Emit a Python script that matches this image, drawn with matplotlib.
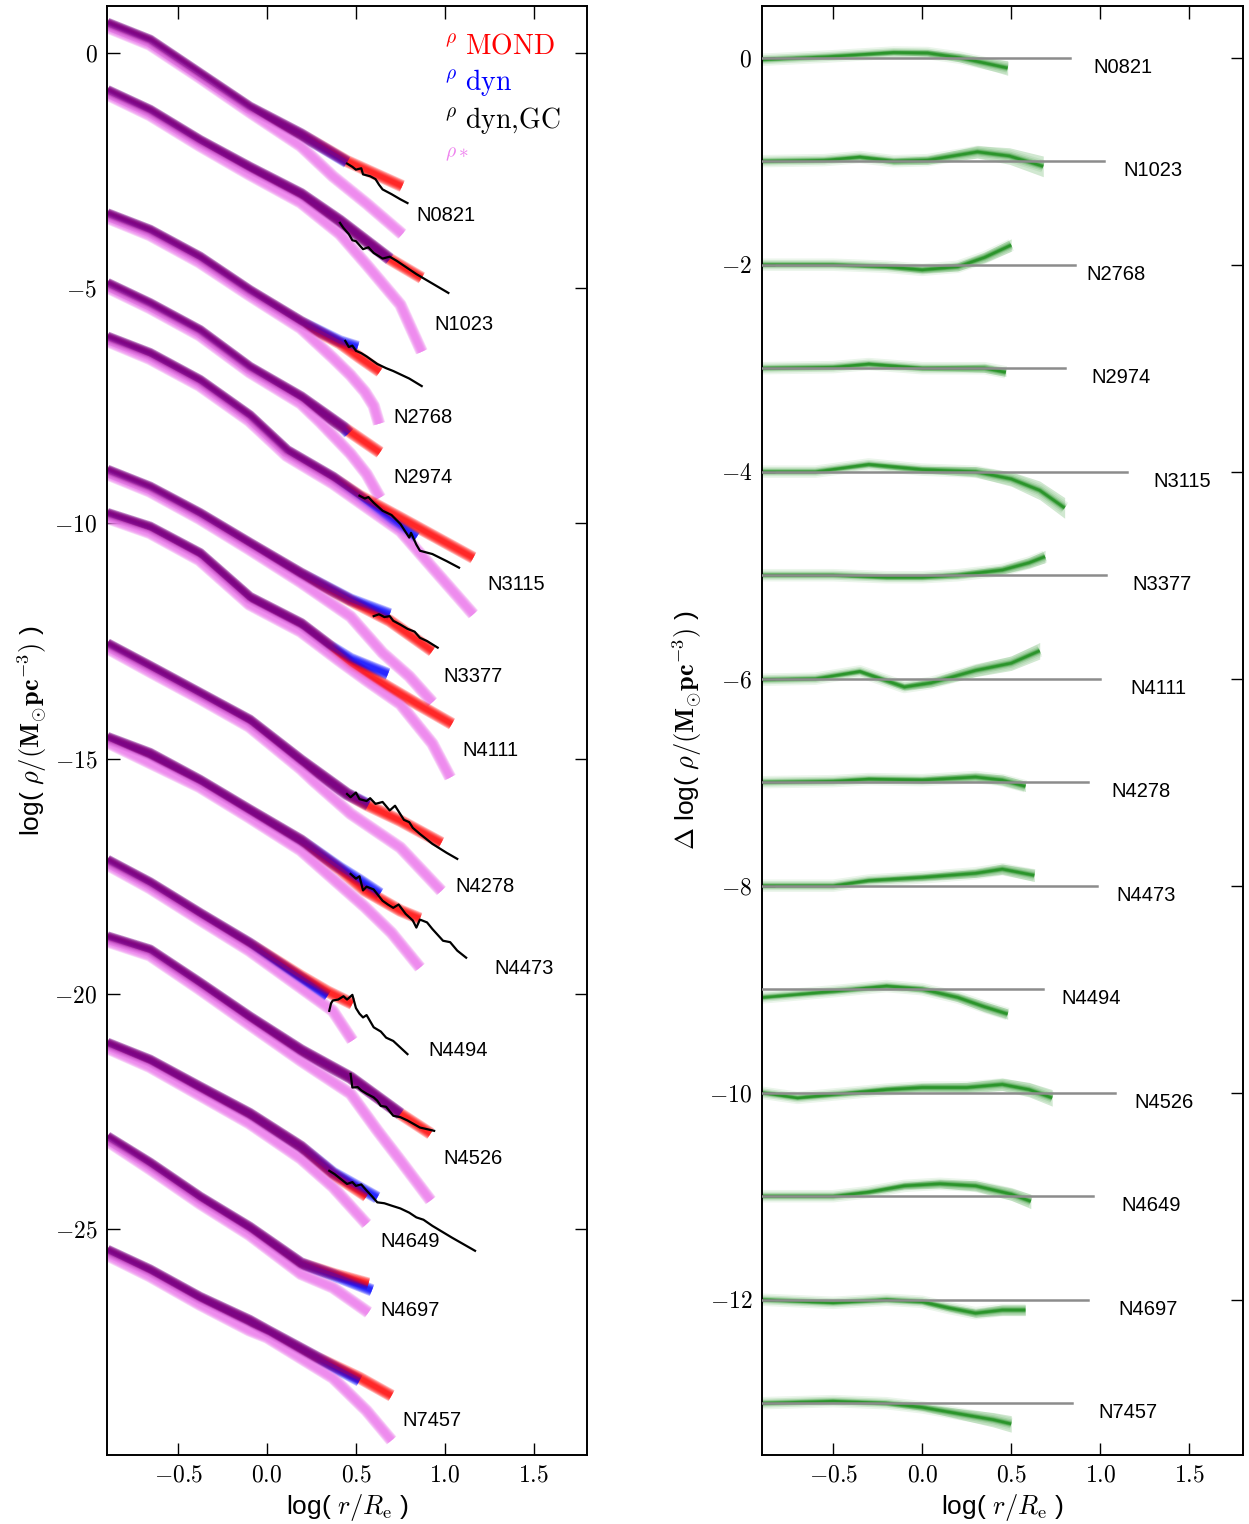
import matplotlib
matplotlib.use("Agg")
import matplotlib.pyplot as plt

plt.rcParams['mathtext.fontset'] = 'cm'
plt.rcParams['font.family'] = ['Liberation Sans', 'DejaVu Sans']

galaxies = ["N0821", "N1023", "N2768", "N2974", "N3115", "N3377", "N4111",
            "N4278", "N4473", "N4494", "N4526", "N4649", "N4697", "N7457"]

# ---- left panel: log density profiles (shifted) ----
mond_x = [
    [-0.9, -0.66, -0.38, -0.10, 0.19, 0.45, 0.76],
    [-0.9, -0.66, -0.38, -0.10, 0.19, 0.41, 0.69, 0.87],
    [-0.9, -0.66, -0.38, -0.10, 0.19, 0.41, 0.52, 0.635],
    [-0.9, -0.66, -0.38, -0.10, 0.19, 0.43, 0.635],
    [-0.9, -0.66, -0.38, -0.10, 0.11, 0.37, 0.52, 0.75, 1.16],
    [-0.9, -0.66, -0.38, -0.10, 0.19, 0.47, 0.69, 0.93],
    [-0.9, -0.66, -0.38, -0.10, 0.19, 0.35, 0.47, 0.67, 0.85, 1.04],
    [-0.9, -0.66, -0.38, -0.10, 0.19, 0.45, 0.56, 0.75, 0.98],
    [-0.9, -0.66, -0.38, -0.10, 0.19, 0.41, 0.55, 0.75, 0.86],
    [-0.9, -0.66, -0.38, -0.10, 0.19, 0.34, 0.48],
    [-0.9, -0.66, -0.38, -0.10, 0.19, 0.47, 0.75, 0.92],
    [-0.9, -0.66, -0.38, -0.10, 0.19, 0.37, 0.56],
    [-0.9, -0.66, -0.38, -0.10, 0.19, 0.37, 0.57],
    [-0.9, -0.66, -0.38, -0.10, 0.0, 0.28, 0.52, 0.70],
]
mond_y = [
    [0.62, 0.26, -0.45, -1.16, -1.73, -2.30, -2.83],
    [-0.81, -1.23, -1.87, -2.44, -3.00, -3.57, -4.38, -4.78],
    [-3.43, -3.78, -4.35, -5.06, -5.72, -6.17, -6.47, -6.77],
    [-4.91, -5.34, -5.91, -6.69, -7.32, -7.96, -8.49],
    [-6.05, -6.40, -6.97, -7.72, -8.46, -9.03, -9.41, -9.88, -10.73],
    [-8.88, -9.24, -9.80, -10.43, -11.07, -11.64, -12.07, -12.71],
    [-9.80, -10.09, -10.65, -11.58, -12.14, -12.60, -12.98, -13.45, -13.85, -14.26],
    [-12.57, -13.05, -13.62, -14.19, -15.04, -15.75, -15.98, -16.32, -16.79],
    [-14.56, -14.90, -15.47, -16.10, -16.74, -17.35, -17.80, -18.23, -18.40],
    [-17.17, -17.65, -18.30, -18.93, -19.62, -19.95, -20.21],
    [-18.80, -19.08, -19.78, -20.50, -21.20, -21.78, -22.55, -22.97],
    [-21.06, -21.42, -21.99, -22.55, -23.25, -23.82, -24.30],
    [-23.05, -23.61, -24.33, -24.97, -25.73, -25.95, -26.16],
    [-25.46, -25.88, -26.46, -26.95, -27.16, -27.73, -28.16, -28.54],
]

dyn_x = [
    [-0.9, -0.66, -0.38, -0.10, 0.19, 0.45],
    [-0.9, -0.66, -0.38, -0.10, 0.19, 0.41, 0.69],
    [-0.9, -0.66, -0.38, -0.10, 0.19, 0.41, 0.51],
    [-0.9, -0.66, -0.38, -0.10, 0.19, 0.43, 0.46],
    [-0.9, -0.66, -0.38, -0.10, 0.11, 0.37, 0.52, 0.70, 0.84],
    [-0.9, -0.66, -0.38, -0.10, 0.19, 0.47, 0.69],
    [-0.9, -0.66, -0.38, -0.10, 0.19, 0.35, 0.47, 0.60, 0.68],
    [-0.9, -0.66, -0.38, -0.10, 0.19, 0.45, 0.57],
    [-0.9, -0.66, -0.38, -0.10, 0.19, 0.41, 0.52, 0.635],
    [-0.9, -0.66, -0.38, -0.10, 0.19, 0.34],
    [-0.9, -0.66, -0.38, -0.10, 0.19, 0.47, 0.75],
    [-0.9, -0.66, -0.38, -0.10, 0.19, 0.37, 0.62],
    [-0.9, -0.66, -0.38, -0.10, 0.19, 0.37, 0.59],
    [-0.9, -0.66, -0.38, -0.10, 0.0, 0.28, 0.52],
]
dyn_y = [
    [0.62, 0.26, -0.45, -1.16, -1.73, -2.32],
    [-0.81, -1.23, -1.87, -2.44, -3.00, -3.57, -4.38],
    [-3.43, -3.78, -4.35, -5.06, -5.72, -6.13, -6.25],
    [-4.91, -5.34, -5.91, -6.69, -7.32, -7.96, -8.08],
    [-6.05, -6.40, -6.97, -7.72, -8.46, -9.03, -9.43, -9.95, -10.30],
    [-8.88, -9.24, -9.80, -10.43, -11.07, -11.62, -11.93],
    [-9.80, -10.09, -10.65, -11.58, -12.14, -12.60, -12.88, -13.08, -13.20],
    [-12.57, -13.05, -13.62, -14.19, -15.04, -15.75, -15.98],
    [-14.56, -14.90, -15.47, -16.10, -16.74, -17.32, -17.58, -17.87],
    [-17.17, -17.65, -18.30, -18.93, -19.66, -20.04],
    [-18.80, -19.08, -19.78, -20.50, -21.20, -21.78, -22.55],
    [-21.06, -21.42, -21.99, -22.55, -23.25, -23.80, -24.33],
    [-23.05, -23.61, -24.33, -24.97, -25.73, -25.97, -26.30],
    [-25.46, -25.88, -26.46, -26.95, -27.16, -27.73, -28.22],
]

star_x = [
    [-0.9, -0.66, -0.38, -0.10, 0.19, 0.37, 0.56, 0.76],
    [-0.9, -0.66, -0.38, -0.10, 0.19, 0.41, 0.56, 0.75, 0.87],
    [-0.9, -0.66, -0.38, -0.10, 0.19, 0.37, 0.47, 0.55, 0.60, 0.63],
    [-0.9, -0.66, -0.38, -0.10, 0.19, 0.30, 0.47, 0.56, 0.635],
    [-0.9, -0.66, -0.38, -0.10, 0.11, 0.37, 0.52, 0.75, 0.93, 1.16],
    [-0.9, -0.66, -0.38, -0.10, 0.19, 0.47, 0.65, 0.80, 0.93],
    [-0.9, -0.66, -0.38, -0.10, 0.19, 0.40, 0.56, 0.75, 0.93, 1.03],
    [-0.9, -0.66, -0.38, -0.10, 0.19, 0.26, 0.47, 0.75, 0.98],
    [-0.9, -0.38, -0.10, 0.19, 0.37, 0.55, 0.70, 0.86],
    [-0.9, -0.66, -0.38, -0.10, 0.19, 0.37, 0.48],
    [-0.9, -0.66, -0.38, -0.10, 0.19, 0.47, 0.62, 0.75, 0.92],
    [-0.9, -0.66, -0.38, -0.10, 0.19, 0.37, 0.56],
    [-0.9, -0.66, -0.38, -0.10, 0.19, 0.37, 0.57],
    [-0.9, -0.66, -0.38, -0.10, 0.0, 0.37, 0.56, 0.70],
]
star_y = [
    [0.55, 0.18, -0.52, -1.25, -1.98, -2.62, -3.20, -3.85],
    [-0.88, -1.32, -1.97, -2.58, -3.18, -3.85, -4.50, -5.35, -6.35],
    [-3.50, -3.87, -4.45, -5.15, -5.85, -6.48, -6.85, -7.20, -7.50, -7.88],
    [-4.98, -5.42, -6.00, -6.78, -7.45, -7.85, -8.52, -8.95, -9.45],
    [-6.12, -6.50, -7.07, -7.82, -8.56, -9.15, -9.55, -10.16, -10.94, -11.93],
    [-8.95, -9.32, -9.90, -10.55, -11.25, -11.98, -12.75, -13.25, -13.80],
    [-9.88, -10.20, -10.78, -11.72, -12.30, -12.90, -13.34, -13.84, -14.68, -15.40],
    [-12.65, -13.15, -13.72, -14.32, -15.22, -15.47, -16.17, -16.89, -17.81],
    [-14.65, -15.60, -16.25, -16.95, -17.55, -18.15, -18.70, -19.44],
    [-17.25, -17.75, -18.42, -19.08, -19.87, -20.36, -20.99],
    [-18.88, -19.18, -19.90, -20.65, -21.42, -22.12, -22.90, -23.54, -24.39],
    [-21.15, -21.55, -22.15, -22.75, -23.50, -24.10, -24.89],
    [-23.12, -23.72, -24.45, -25.12, -25.95, -26.24, -26.77],
    [-25.55, -26.00, -26.60, -27.15, -27.30, -28.16, -28.86, -29.49],
]

# globular cluster dynamical profiles (None = not available)
gc_x = [
    [0.45, 0.48, 0.50, 0.53, 0.54, 0.58, 0.61, 0.63, 0.65, 0.70, 0.75, 0.79],
    [0.41, 0.43, 0.46, 0.48, 0.50, 0.54, 0.57, 0.60, 0.65, 0.69, 0.73, 0.84, 1.02],
    [0.44, 0.46, 0.48, 0.50, 0.53, 0.56, 0.62, 0.67, 0.71, 0.80, 0.87],
    None,
    [0.52, 0.55, 0.57, 0.60, 0.65, 0.70, 0.75, 0.80, 0.81, 0.84, 0.86, 0.93, 1.01, 1.08],
    [0.60, 0.63, 0.66, 0.69, 0.71, 0.75, 0.79, 0.83, 0.86, 0.90, 0.96],
    None,
    [0.45, 0.47, 0.50, 0.52, 0.56, 0.58, 0.61, 0.65, 0.69, 0.72, 0.75, 0.77, 0.80,
     0.82, 0.86, 0.93, 1.01, 1.07],
    [0.47, 0.50, 0.52, 0.54, 0.56, 0.60, 0.635, 0.65, 0.68, 0.71, 0.74, 0.78, 0.82,
     0.84, 0.86, 0.90, 0.93, 0.99, 1.03, 1.07, 1.12],
    [0.35, 0.36, 0.37, 0.40, 0.43, 0.45, 0.48, 0.50, 0.52, 0.54, 0.56, 0.60, 0.64,
     0.67, 0.71, 0.75, 0.79],
    [0.47, 0.48, 0.51, 0.53, 0.56, 0.60, 0.62, 0.64, 0.67, 0.71, 0.75, 0.79, 0.86, 0.94],
    [0.35, 0.38, 0.42, 0.45, 0.48, 0.50, 0.53, 0.56, 0.59, 0.62, 0.66, 0.70, 0.75,
     0.80, 0.84, 0.88, 0.93, 1.04, 1.17],
    None,
    None,
]
gc_y = [
    [-2.35, -2.42, -2.48, -2.45, -2.58, -2.62, -2.68, -2.80, -2.90, -3.00, -3.11, -3.19],
    [-3.61, -3.72, -3.85, -3.98, -4.00, -4.17, -4.13, -4.25, -4.37, -4.33, -4.42, -4.70, -5.10],
    [-6.12, -6.25, -6.22, -6.33, -6.38, -6.45, -6.61, -6.70, -6.76, -6.92, -7.08],
    None,
    [-9.41, -9.47, -9.44, -9.56, -9.73, -9.82, -10.01, -10.30, -10.20, -10.45, -10.58,
     -10.65, -10.80, -10.94],
    [-11.97, -11.93, -11.99, -11.97, -12.07, -12.15, -12.24, -12.30, -12.43, -12.50, -12.64],
    None,
    [-15.75, -15.82, -15.72, -15.86, -15.90, -15.84, -15.96, -15.92, -16.10, -16.00,
     -16.18, -16.30, -16.35, -16.47, -16.60, -16.81, -17.00, -17.13],
    [-17.45, -17.55, -17.50, -17.80, -17.72, -17.78, -17.95, -18.02, -18.10, -18.17,
     -18.10, -18.30, -18.44, -18.59, -18.42, -18.48, -18.62, -18.87, -18.90, -19.08, -19.23],
    [-20.36, -20.20, -20.14, -20.12, -20.05, -20.12, -20.02, -20.30, -20.42, -20.50,
     -20.45, -20.71, -20.80, -20.93, -21.00, -21.14, -21.28],
    [-21.70, -21.99, -21.98, -22.05, -22.12, -22.20, -22.27, -22.38, -22.40, -22.59,
     -22.62, -22.69, -22.84, -22.91],
    [-23.76, -23.83, -23.95, -24.04, -24.00, -24.08, -24.05, -24.18, -24.30, -24.43,
     -24.45, -24.50, -24.56, -24.65, -24.75, -24.80, -24.93, -25.18, -25.46],
    None,
    None,
]

left_label_x = [0.84, 0.94, 0.71, 0.71, 1.24, 0.99, 1.10, 1.06, 1.28, 0.905, 0.99, 0.635, 0.635, 0.76]
left_label_y = [-3.45, -5.77, -7.75, -9.03, -11.29, -13.26, -14.82, -17.71, -19.45,
                -21.21, -23.49, -25.27, -26.72, -29.06]

# ---- right panel: log(rho_MOND / rho_dyn), shifted by -1 per galaxy ----
levels = [0, -1, -2, -3, -4, -5, -6, -7, -8, -9, -10, -11, -12, -13]
ref_end = [0.83, 1.02, 0.86, 0.80, 1.15, 1.03, 1.00, 0.93, 0.98, 0.68, 1.08, 0.96, 0.93, 0.84]
right_label_x = [0.96, 1.13, 0.92, 0.95, 1.30, 1.18, 1.17, 1.06, 1.09, 0.78, 1.19, 1.12, 1.10, 0.99]

diff_x = [
    [-0.9, -0.54, -0.16, 0.03, 0.21, 0.40, 0.48],
    [-0.9, -0.55, -0.35, -0.16, 0.03, 0.31, 0.49, 0.68],
    [-0.9, -0.5, -0.2, 0.0, 0.2, 0.35, 0.5],
    [-0.9, -0.5, -0.3, 0.0, 0.2, 0.35, 0.47],
    [-0.9, -0.6, -0.3, 0.0, 0.3, 0.5, 0.66, 0.80],
    [-0.9, -0.5, -0.2, 0.0, 0.2, 0.45, 0.6, 0.69],
    [-0.9, -0.6, -0.35, -0.1, 0.05, 0.3, 0.5, 0.66],
    [-0.9, -0.5, -0.3, 0.0, 0.3, 0.45, 0.58],
    [-0.9, -0.5, -0.3, 0.0, 0.3, 0.45, 0.63],
    [-0.9, -0.7, -0.5, -0.2, 0.0, 0.2, 0.35, 0.48],
    [-0.9, -0.7, -0.45, -0.2, 0.0, 0.25, 0.45, 0.6, 0.73],
    [-0.9, -0.5, -0.3, -0.1, 0.1, 0.3, 0.5, 0.61],
    [-0.9, -0.5, -0.2, 0.0, 0.15, 0.3, 0.45, 0.58],
    [-0.9, -0.5, -0.2, 0.0, 0.2, 0.4, 0.5],
]
diff_y = [
    [-0.02, 0.01, 0.05, 0.045, 0.0, -0.07, -0.10],
    [0.0, 0.01, 0.04, 0.0, 0.01, 0.09, 0.05, -0.05],
    [0.0, 0.0, -0.02, -0.05, -0.02, 0.07, 0.19],
    [0.0, 0.01, 0.04, 0.0, 0.0, 0.0, -0.04],
    [0.0, 0.0, 0.07, 0.02, 0.0, -0.07, -0.18, -0.35],
    [0.0, 0.0, -0.02, -0.02, 0.0, 0.05, 0.12, 0.18],
    [-0.01, 0.0, 0.07, -0.08, -0.04, 0.08, 0.15, 0.27],
    [0.0, 0.01, 0.03, 0.02, 0.05, 0.02, -0.04],
    [0.0, 0.0, 0.05, 0.08, 0.12, 0.16, 0.10],
    [-0.08, -0.05, -0.02, 0.03, 0.0, -0.08, -0.17, -0.24],
    [0.0, -0.05, -0.01, 0.03, 0.05, 0.05, 0.08, 0.03, -0.05],
    [0.0, 0.0, 0.04, 0.10, 0.12, 0.10, 0.02, -0.05],
    [0.0, -0.03, 0.0, -0.02, -0.08, -0.13, -0.10, -0.10],
    [0.0, 0.02, 0.0, -0.04, -0.10, -0.16, -0.20],
]
# half-width of the green bundle of realisations
diff_spread = [
    [0.01, 0.01, 0.02, 0.03, 0.04, 0.06, 0.07],
    [0.01, 0.01, 0.02, 0.03, 0.04, 0.06, 0.08, 0.10],
    [0.01, 0.01, 0.02, 0.03, 0.04, 0.05, 0.06],
    [0.01, 0.01, 0.02, 0.02, 0.03, 0.04, 0.04],
    [0.01, 0.01, 0.02, 0.03, 0.05, 0.07, 0.09, 0.10],
    [0.01, 0.01, 0.02, 0.02, 0.03, 0.04, 0.05, 0.06],
    [0.01, 0.01, 0.02, 0.03, 0.04, 0.06, 0.07, 0.08],
    [0.01, 0.01, 0.02, 0.03, 0.04, 0.05, 0.05],
    [0.01, 0.01, 0.02, 0.03, 0.04, 0.05, 0.06],
    [0.01, 0.01, 0.02, 0.02, 0.03, 0.04, 0.05, 0.05],
    [0.01, 0.01, 0.02, 0.03, 0.04, 0.05, 0.06, 0.07, 0.08],
    [0.01, 0.01, 0.02, 0.03, 0.04, 0.05, 0.06, 0.07],
    [0.01, 0.01, 0.02, 0.02, 0.03, 0.04, 0.05, 0.05],
    [0.01, 0.01, 0.02, 0.03, 0.05, 0.07, 0.08],
]

xticks = [-0.5, 0.0, 0.5, 1.0, 1.5]

fig = plt.figure(figsize=(12.49, 15.24), dpi=100)
axL = fig.add_axes([0.0857, 0.0453, 0.3843, 0.9508])
axR = fig.add_axes([0.610, 0.0453, 0.385, 0.9508])

# soft bands: interleave the colours so overlaps turn purple
widths = [9.0, 8.0, 7.0, 6.0, 5.0, 4.0, 3.0]
kw = dict(solid_capstyle='butt', solid_joinstyle='round')
for i in range(len(galaxies)):
    for k, w in enumerate(widths):
        axL.plot(star_x[i], star_y[i], color='violet', lw=w, alpha=0.3, **kw)
        first, second = ('red', 'blue') if k % 2 == 0 else ('blue', 'red')
        for col in (first, second):
            xs, ys = (mond_x[i], mond_y[i]) if col == 'red' else (dyn_x[i], dyn_y[i])
            axL.plot(xs, ys, color=col, lw=w, alpha=0.23, **kw)
    if gc_x[i] is not None:
        axL.plot(gc_x[i], gc_y[i], color='black', lw=1.6, zorder=5)
    axL.text(left_label_x[i], left_label_y[i], galaxies[i], fontsize=14.5,
             ha='left', va='center')

axL.set_xlim(-0.9, 1.8)
axL.set_ylim(-29.8, 1.0)
yticksL = [0, -5, -10, -15, -20, -25]
axL.set_yticks(yticksL)
axL.set_yticklabels([f'${v}$' for v in yticksL])

legend_items = [(r'$^{\rho}\ \mathrm{MOND}$', 'red', 0.9675),
                (r'$^{\rho}\ \mathrm{dyn}$', 'blue', 0.942),
                (r'$^{\rho}\ \mathrm{dyn{,}GC}$', 'black', 0.9157),
                (r'$^{\rho *}$', 'violet', 0.8895)]
for txt, col, yy in legend_items:
    axL.text(0.703, yy, txt, color=col, fontsize=20, transform=axL.transAxes,
             ha='left', va='baseline')

axL.set_ylabel(r'log( $\rho/(\mathbf{M}_{\odot}\mathbf{pc}^{-3})$ )', fontsize=19)

for i in range(len(galaxies)):
    yy = [levels[i] + d for d in diff_y[i]]
    lo = [a - s for a, s in zip(yy, diff_spread[i])]
    hi = [a + s for a, s in zip(yy, diff_spread[i])]
    axR.fill_between(diff_x[i], lo, hi, color='green', alpha=0.18, lw=0)
    for w, a in [(9, 0.08), (6.5, 0.12), (4.5, 0.2), (3, 0.35), (1.8, 0.5)]:
        axR.plot(diff_x[i], yy, color='green', lw=w, alpha=a, **kw)
    axR.plot([-0.9, ref_end[i]], [levels[i], levels[i]], color='0.55', lw=1.8, zorder=5)
    axR.text(right_label_x[i], levels[i] - 0.09, galaxies[i], fontsize=14.5,
             ha='left', va='center')

axR.set_xlim(-0.9, 1.8)
axR.set_ylim(-13.5, 0.5)
yticksR = [0, -2, -4, -6, -8, -10, -12]
axR.set_yticks(yticksR)
axR.set_yticklabels([f'${v}$' for v in yticksR])
axR.set_ylabel(r'$\Delta$ log( $\rho/(\mathbf{M}_{\odot}\mathbf{pc}^{-3})$ )', fontsize=19)

for ax in (axL, axR):
    ax.set_xticks(xticks)
    ax.set_xticklabels([f'${v:.1f}$' for v in xticks])
    ax.tick_params(direction='in', top=True, right=True, length=9, width=1,
                   labelsize=17, pad=7)
    for s in ax.spines.values():
        s.set_linewidth(1.4)
    ax.set_xlabel(r'log( $r/R_{\rm e}$ )', fontsize=19)

fig.savefig('out.png', dpi=100)
